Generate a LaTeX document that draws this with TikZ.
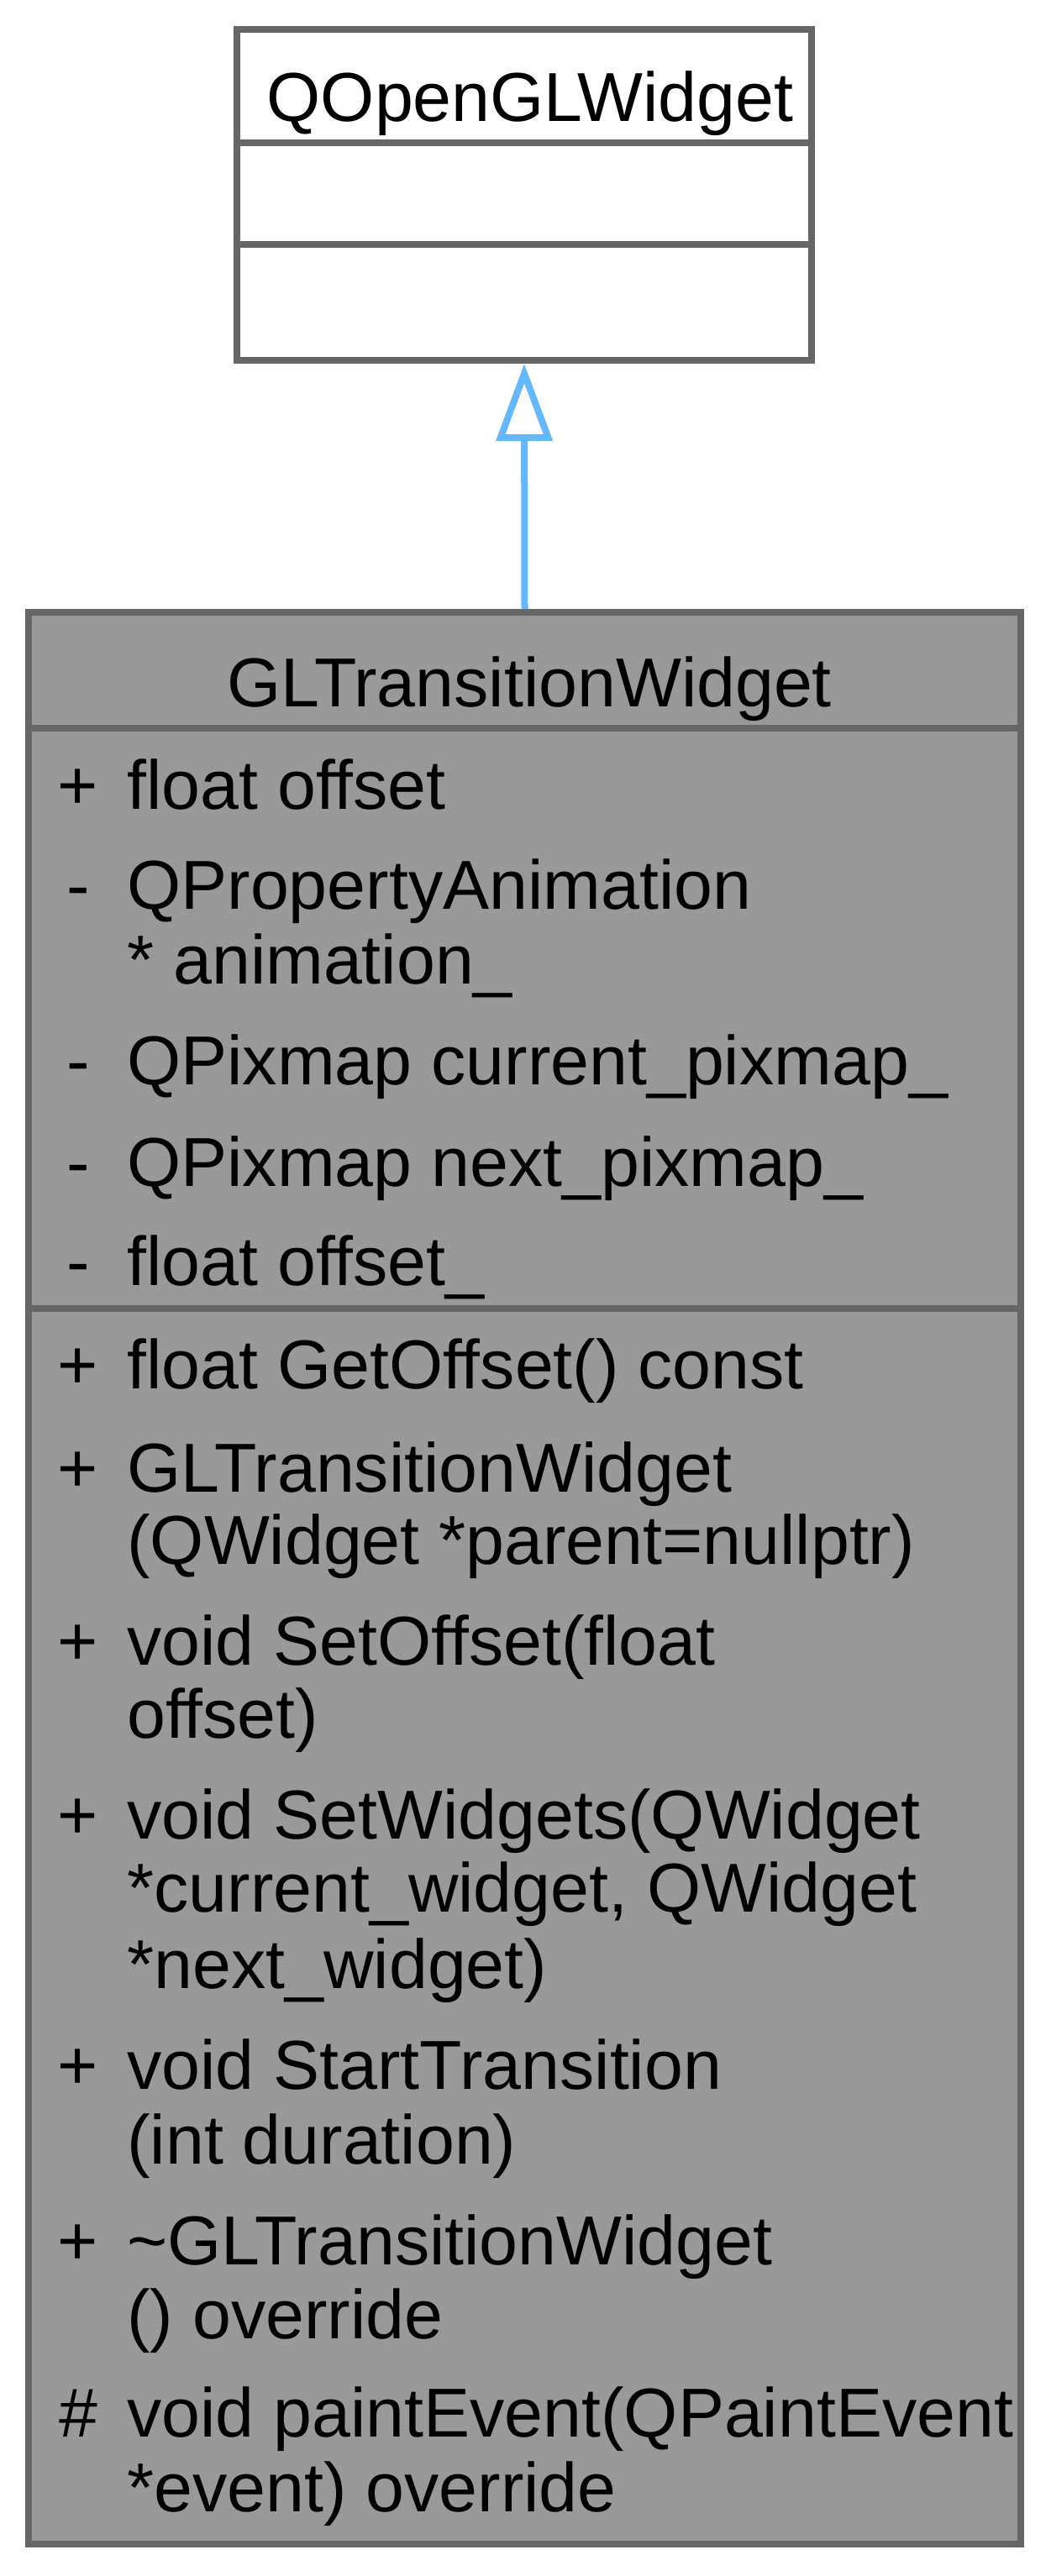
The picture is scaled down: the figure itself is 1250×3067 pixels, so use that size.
\documentclass[tikz,border=0pt]{standalone}
\usepackage{fontspec}
\setmainfont{Liberation Sans}
\usepackage{tikz}
\usetikzlibrary{arrows.meta}
\definecolor{boxgray}{HTML}{666666}
\definecolor{boxfill}{HTML}{999999}
\definecolor{edgeblue}{HTML}{63B8FF}
\tikzset{
  classbox/.style = {draw=boxgray, line width=4pt, inner sep=0pt},
  sepline/.style  = {draw=boxgray, line width=4pt},
  inherit/.style  = {-{Triangle[open,length=46pt,width=33pt]}, draw=edgeblue, line width=4pt},
  member/.style   = {anchor=base west, inner sep=0pt},
  visib/.style    = {anchor=base, inner sep=0pt}
}

\begin{document}
\begin{tikzpicture}[x=0.5pt, y=-0.5pt, font=\fontsize{41.25pt}{44pt}\selectfont]
  \useasboundingbox (0,0) rectangle (1250,3067);
  % base class, empty compartments
  \node[classbox, fill=white, minimum width=342pt, minimum height=197pt] (qopengl) at (624,232) {};
  \draw[sepline] (qopengl.west |- 0,170) -- (qopengl.east |- 0,170);
  \draw[sepline] (qopengl.west |- 0,291) -- (qopengl.east |- 0,291);
  \node[visib] (qopengltitle) at (631,145) {QOpenGLWidget};
  % derived class
  \node[classbox, fill=boxfill, minimum width=590.5pt, minimum height=1150pt] (gltrans) at (624.5,1879) {};
  \draw[sepline] (gltrans.west |- 0,867) -- (gltrans.east |- 0,867);
  \draw[sepline] (gltrans.west |- 0,1558) -- (gltrans.east |- 0,1558);
  \node[visib] (gltranstitle) at (630,841) {GLTransitionWidget};
  % visibility marks, one per member
  \foreach \y/\v [count=\i] in {963/+, 1082/-, 1291/-, 1412/-, 1530/-,
      1653/+, 1776/+, 1982/+, 2189/+, 2487/+, 2696/+, 2901/\#}
    \node[visib] (vis\i) at (93,\y) {\v};
  % member lines
  \foreach \y/\t [count=\i] in {963/float offset, 1082/QPropertyAnimation,
      1171/* animation\_, 1291/QPixmap current\_pixmap\_, 1412/QPixmap next\_pixmap\_,
      1530/float offset\_, 1653/float GetOffset() const, 1776/GLTransitionWidget,
      1862/(QWidget *parent=nullptr), 1982/void SetOffset(float, 2069/offset),
      2189/void SetWidgets(QWidget, 2276/{*current\_widget, QWidget},
      2367/*next\_widget), 2487/void StartTransition, 2576/(int duration),
      2696/\textasciitilde GLTransitionWidget, 2784/() override,
      2901/void paintEvent(QPaintEvent, 2990/*event) override}
    \node[member] (mem\i) at (151,\y) {\t};
  % inheritance
  \draw[inherit] (gltrans.north) -- (qopengl.south);
\end{tikzpicture}
\end{document}
